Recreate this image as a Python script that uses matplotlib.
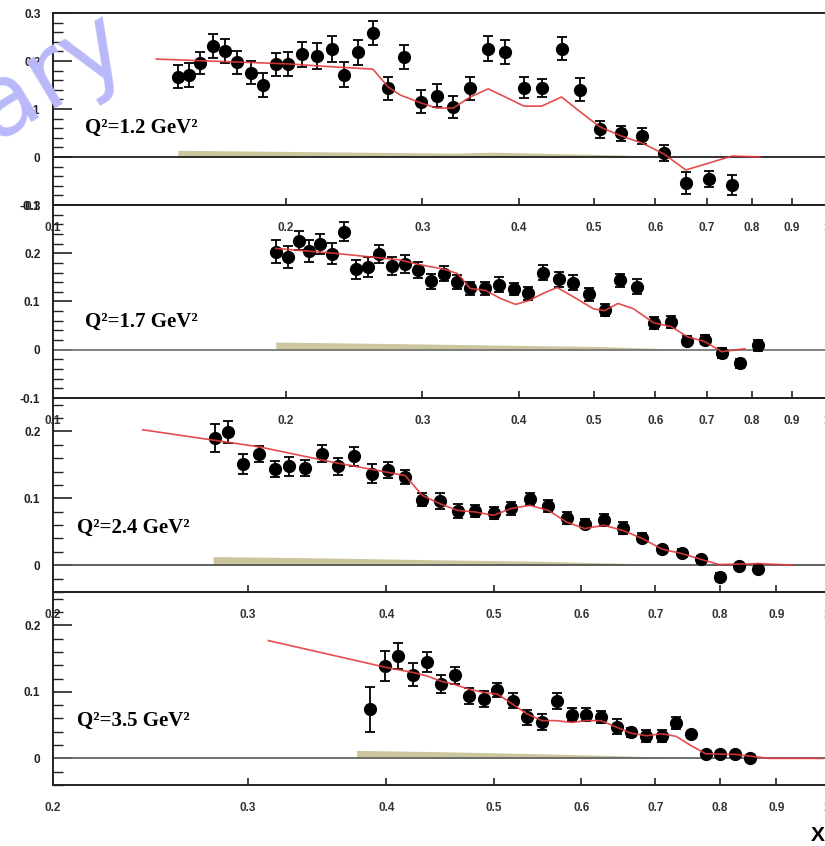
import numpy as np
import matplotlib
matplotlib.use("Agg")
import matplotlib.pyplot as plt
from matplotlib.ticker import FixedLocator, NullLocator, FixedFormatter

# ---------------- data ----------------
# Q^2 = 1.2 GeV^2
x1 = [0.145, 0.150, 0.155, 0.161, 0.167, 0.173, 0.180, 0.187, 0.194, 0.201,
      0.210, 0.219, 0.229, 0.238, 0.248, 0.259, 0.271, 0.284, 0.299, 0.313,
      0.329, 0.346, 0.365, 0.384, 0.406, 0.428, 0.454, 0.480, 0.509, 0.542,
      0.577, 0.616, 0.657, 0.704, 0.754]
y1 = [0.167, 0.171, 0.196, 0.232, 0.221, 0.197, 0.176, 0.150, 0.193, 0.193,
      0.214, 0.210, 0.225, 0.171, 0.218, 0.259, 0.143, 0.208, 0.115, 0.128,
      0.105, 0.143, 0.226, 0.218, 0.144, 0.143, 0.226, 0.140, 0.058, 0.049,
      0.044, 0.009, -0.054, -0.046, -0.058]
e1 = [0.024, 0.025, 0.023, 0.025, 0.025, 0.024, 0.023, 0.024, 0.024, 0.025,
      0.026, 0.027, 0.027, 0.026, 0.026, 0.025, 0.024, 0.025, 0.024, 0.024,
      0.023, 0.024, 0.026, 0.025, 0.022, 0.019, 0.024, 0.024, 0.018, 0.016,
      0.016, 0.017, 0.023, 0.017, 0.021]
cx1 = [0.136, 0.201, 0.229, 0.259, 0.271, 0.281, 0.299, 0.313, 0.329, 0.346,
       0.365, 0.384, 0.406, 0.428, 0.454, 0.480, 0.509, 0.542, 0.577, 0.616,
       0.657, 0.704, 0.754, 0.819]
cy1 = [0.204, 0.194, 0.188, 0.183, 0.146, 0.129, 0.1125, 0.102, 0.102, 0.125,
       0.142, 0.125, 0.106, 0.106, 0.125, 0.094, 0.0625, 0.044, 0.029, 0.006,
       -0.027, -0.0125, 0.002, 0.0]
bx1 = [0.145, 0.25, 0.33, 0.37, 0.45, 0.55, 0.62]
bh1 = [0.014, 0.010, 0.008, 0.010, 0.007, 0.004, 0.0]

# Q^2 = 1.7 GeV^2
x2 = [0.194, 0.201, 0.208, 0.214, 0.221, 0.229, 0.238, 0.246, 0.255, 0.264,
      0.274, 0.285, 0.296, 0.308, 0.320, 0.333, 0.346, 0.362, 0.377, 0.394,
      0.411, 0.430, 0.450, 0.470, 0.492, 0.516, 0.540, 0.568, 0.597, 0.628,
      0.660, 0.695, 0.731, 0.772, 0.815]
y2 = [0.2035, 0.192, 0.226, 0.205, 0.219, 0.199, 0.245, 0.167, 0.172, 0.198,
      0.1735, 0.178, 0.165, 0.142, 0.158, 0.140, 0.127, 0.127, 0.135, 0.126,
      0.117, 0.160, 0.146, 0.139, 0.115, 0.082, 0.144, 0.131, 0.056, 0.058,
      0.019, 0.021, -0.007, -0.028, 0.009]
e2 = [0.024, 0.023, 0.020, 0.023, 0.020, 0.022, 0.019, 0.020, 0.021, 0.019,
      0.019, 0.018, 0.017, 0.016, 0.015, 0.014, 0.014, 0.014, 0.015, 0.013,
      0.013, 0.015, 0.015, 0.016, 0.014, 0.013, 0.014, 0.015, 0.012, 0.012,
      0.009, 0.009, 0.011, 0.009, 0.012]
cx2 = [0.194, 0.231, 0.281, 0.296, 0.320, 0.333, 0.346, 0.362, 0.379, 0.396,
       0.412, 0.430, 0.448, 0.470, 0.499, 0.516, 0.537, 0.562, 0.597, 0.629,
       0.660, 0.695, 0.731, 0.783]
cy2 = [0.210, 0.200, 0.186, 0.177, 0.167, 0.158, 0.127, 0.123, 0.106, 0.094,
       0.102, 0.117, 0.129, 0.110, 0.085, 0.081, 0.096, 0.085, 0.056, 0.048,
       0.027, 0.017, -0.004, 0.002]
bx2 = [0.194, 0.30, 0.40, 0.50, 0.60, 0.66]
bh2 = [0.016, 0.012, 0.009, 0.007, 0.003, 0.0]

# Q^2 = 2.4 GeV^2
x3 = [0.280, 0.288, 0.297, 0.307, 0.317, 0.327, 0.338, 0.350, 0.362, 0.374,
      0.388, 0.401, 0.416, 0.431, 0.447, 0.464, 0.481, 0.500, 0.518, 0.539,
      0.560, 0.582, 0.604, 0.629, 0.654, 0.681, 0.710, 0.739, 0.769, 0.801,
      0.833, 0.867]
y3 = [0.190, 0.199, 0.151, 0.166, 0.144, 0.148, 0.146, 0.167, 0.148, 0.163,
      0.137, 0.143, 0.132, 0.098, 0.0955, 0.081, 0.081, 0.078, 0.085, 0.0985,
      0.0885, 0.0706, 0.062, 0.068, 0.055, 0.041, 0.024, 0.019, 0.009, -0.018,
      -0.0015, -0.005]
e3 = [0.021, 0.017, 0.015, 0.012, 0.012, 0.014, 0.012, 0.012, 0.013, 0.014,
      0.014, 0.012, 0.011, 0.010, 0.012, 0.011, 0.009, 0.009, 0.010, 0.009,
      0.009, 0.009, 0.007, 0.009, 0.009, 0.007, 0.005, 0.005, 0.005, 0.006,
      0.004, 0.004]
cx3 = [0.241, 0.307, 0.358, 0.416, 0.431, 0.447, 0.464, 0.481, 0.500, 0.518,
       0.539, 0.560, 0.582, 0.604, 0.629, 0.654, 0.681, 0.710, 0.739, 0.769,
       0.799, 0.867, 0.931]
cy3 = [0.2025, 0.177, 0.154, 0.134, 0.1045, 0.092, 0.082, 0.0796, 0.0746, 0.0846,
       0.0896, 0.082, 0.0646, 0.0548, 0.0597, 0.052, 0.040, 0.024, 0.0175, 0.009,
       0.001, 0.0025, 0.0]
bx3 = [0.279, 0.35, 0.45, 0.55, 0.65, 0.756]
bh3 = [0.013, 0.011, 0.008, 0.006, 0.003, 0.0]

# Q^2 = 3.5 GeV^2
x4 = [0.387, 0.399, 0.410, 0.423, 0.435, 0.448, 0.461, 0.475, 0.490, 0.504,
      0.520, 0.536, 0.553, 0.570, 0.588, 0.606, 0.625, 0.646, 0.665, 0.687,
      0.709, 0.731, 0.754, 0.777, 0.801, 0.826, 0.852]
y4 = [0.074, 0.139, 0.154, 0.126, 0.145, 0.112, 0.125, 0.094, 0.089, 0.103,
      0.0866, 0.0617, 0.054, 0.0866, 0.0657, 0.0657, 0.0627, 0.0478, 0.039, 0.033,
      0.034, 0.053, 0.036, 0.006, 0.007, 0.006, 0.0]
e4 = [0.034, 0.023, 0.020, 0.017, 0.015, 0.014, 0.013, 0.012, 0.012, 0.011,
      0.011, 0.011, 0.012, 0.012, 0.010, 0.010, 0.009, 0.011, 0.007, 0.009,
      0.009, 0.009, 0.004, 0.004, 0.004, 0.004, 0.004]
cx4 = [0.313, 0.399, 0.423, 0.435, 0.448, 0.461, 0.475, 0.490, 0.504, 0.520,
       0.536, 0.553, 0.570, 0.588, 0.606, 0.625, 0.646, 0.665, 0.687, 0.709,
       0.731, 0.754, 0.777, 0.826, 0.887, 0.992]
cy4 = [0.177, 0.137, 0.129, 0.124, 0.116, 0.111, 0.104, 0.099, 0.0966, 0.0816,
       0.0667, 0.0567, 0.0567, 0.054, 0.0567, 0.0567, 0.0467, 0.038, 0.034, 0.037,
       0.033, 0.019, 0.007, 0.006, 0.0, 0.0]
bx4 = [0.376, 0.45, 0.55, 0.65, 0.771]
bh4 = [0.012, 0.010, 0.007, 0.004, 0.0]

q2_labels = ["Q\u00b2=1.2 GeV\u00b2", "Q\u00b2=1.7 GeV\u00b2",
             "Q\u00b2=2.4 GeV\u00b2", "Q\u00b2=3.5 GeV\u00b2"]

xticks_wide = [0.1, 0.2, 0.3, 0.4, 0.5, 0.6, 0.7, 0.8, 0.9, 1.0]
xlabels_wide = ["0.1", "0.2", "0.3", "0.4", "0.5", "0.6", "0.7", "0.8", "0.9", "1"]
xticks_narrow = [0.2, 0.3, 0.4, 0.5, 0.6, 0.7, 0.8, 0.9, 1.0]
xlabels_narrow = ["0.2", "0.3", "0.4", "0.5", "0.6", "0.7", "0.8", "0.9", "1"]

yticks_wide = [-0.1, 0.0, 0.1, 0.2, 0.3]
ylabels_wide = ["-0.1", "0", "0.1", "0.2", "0.3"]
yticks_narrow = [0.0, 0.1, 0.2]
ylabels_narrow = ["0", "0.1", "0.2"]

# ---------------- figure ----------------
W, H = 825, 846
fig = plt.figure(figsize=(W / 100, H / 100), dpi=100)
fig.patch.set_facecolor("white")

LEFT, RIGHT = 53, 827
rows = [(13, 205), (205, 398), (398, 592), (592, 785)]

panels = [
    dict(x=x1, y=y1, e=e1, cx=cx1, cy=cy1, bx=bx1, bh=bh1, xlim=(0.1, 1.0),
         ylim=(-0.1, 0.3), xt=xticks_wide, xl=xlabels_wide, yt=yticks_wide,
         yl=ylabels_wide, zc="#222222", lab=(0.041, 0.375)),
    dict(x=x2, y=y2, e=e2, cx=cx2, cy=cy2, bx=bx2, bh=bh2, xlim=(0.1, 1.0),
         ylim=(-0.1, 0.3), xt=xticks_wide, xl=xlabels_wide, yt=yticks_wide,
         yl=ylabels_wide, zc="#777777", lab=(0.041, 0.368)),
    dict(x=x3, y=y3, e=e3, cx=cx3, cy=cy3, bx=bx3, bh=bh3, xlim=(0.2, 1.0),
         ylim=(-0.04, 0.25), xt=xticks_narrow, xl=xlabels_narrow, yt=yticks_narrow,
         yl=ylabels_narrow, zc="#555555", lab=(0.031, 0.304)),
    dict(x=x4, y=y4, e=e4, cx=cx4, cy=cy4, bx=bx4, bh=bh4, xlim=(0.2, 1.0),
         ylim=(-0.04, 0.25), xt=xticks_narrow, xl=xlabels_narrow, yt=yticks_narrow,
         yl=ylabels_narrow, zc="#666666", lab=(0.031, 0.306)),
]

tick_font = dict(family="Liberation Sans", weight="bold", size=8.5)

for (top, bot), p, lab in zip(rows, panels, q2_labels):
    ax = fig.add_axes([LEFT / W, 1 - bot / H, (RIGHT - LEFT) / W, (bot - top) / H])
    ax.set_facecolor("none")
    ax.set_xscale("log")
    ax.set_xlim(*p["xlim"])
    ax.set_ylim(*p["ylim"])

    # systematic band
    ax.fill_between(p["bx"], 0, p["bh"], color="#cbc69d", lw=0, zorder=1)
    # zero line
    ax.axhline(0, color=p["zc"], lw=1.3, zorder=2)
    # data
    ax.errorbar(p["x"], p["y"], yerr=p["e"], fmt="o", color="black", ms=8.5,
                elinewidth=1.3, capsize=3.4, capthick=1.3, zorder=3)
    # model curve
    ax.plot(p["cx"], p["cy"], color="#e23a3a", lw=1.2, alpha=0.9, zorder=4)

    ax.text(p["lab"][0], p["lab"][1], lab, transform=ax.transAxes,
            family="Liberation Serif", weight="bold", size=15, ha="left",
            va="baseline", zorder=5)

    # axes styling
    for side in ["left", "bottom", "top", "right"]:
        ax.spines[side].set_linewidth(1.4)
        ax.spines[side].set_color("#222222")
    ax.xaxis.set_major_locator(FixedLocator(p["xt"]))
    ax.xaxis.set_major_formatter(FixedFormatter(p["xl"]))
    ax.xaxis.set_minor_locator(NullLocator())
    ax.yaxis.set_major_locator(FixedLocator(p["yt"]))
    ax.yaxis.set_major_formatter(FixedFormatter(p["yl"]))
    ax.yaxis.set_minor_locator(FixedLocator(np.arange(-0.1, 0.3001, 0.02)))
    ax.tick_params(axis="x", which="major", direction="in", length=5, width=1.2,
                   pad=12, top=False, colors="#222222", labelcolor="#333333")
    ax.tick_params(axis="y", which="major", direction="in", length=14, width=1.2,
                   pad=9, right=False, colors="#222222", labelcolor="#222222")
    ax.tick_params(axis="y", which="minor", direction="in", length=7, width=1.0,
                   right=False, colors="#222222")
    for t in ax.get_xticklabels() + ax.get_yticklabels():
        t.set_fontfamily(tick_font["family"])
        t.set_fontweight(tick_font["weight"])
        t.set_fontsize(tick_font["size"])

fig.text(818 / W, 1 - 835 / H, "X", family="Liberation Sans", weight="bold",
         size=15, ha="center", va="center")

fig.text(132 / W, 1 - 56 / H, "Preliminary", family="DejaVu Sans", size=72,
         color="#b9b9fa", rotation=31, rotation_mode="anchor", ha="right",
         va="baseline", zorder=10)

fig.savefig("out.png", dpi=100)
